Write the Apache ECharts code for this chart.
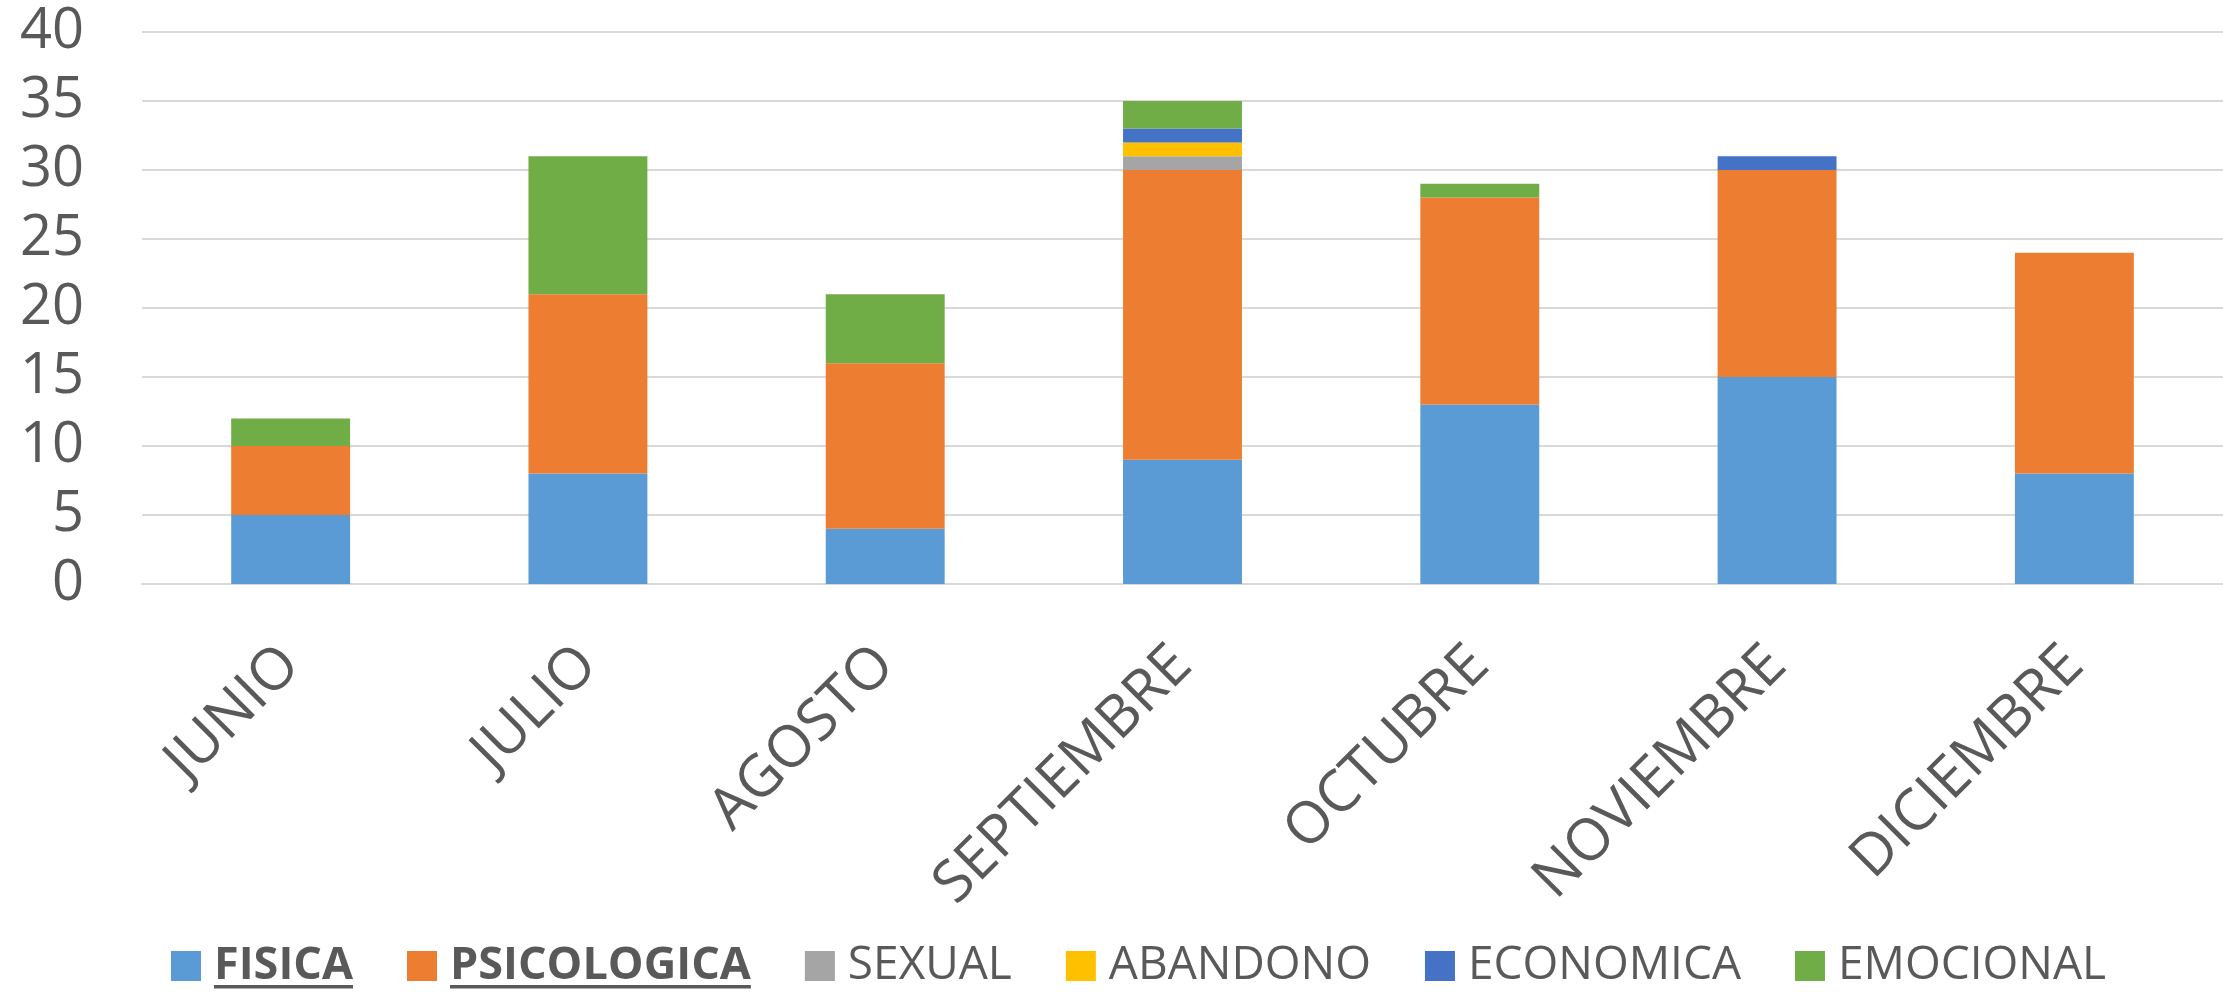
<!DOCTYPE html>
<html>
<head>
<meta charset="utf-8">
<script src="https://cdn.jsdelivr.net/npm/echarts@6/dist/echarts.min.js"></script>
<style>
  html, body { margin: 0; padding: 0; background: #fff; }
  #chart { width: 2223px; height: 992px; }
</style>
</head>
<body>
<div id="chart"></div>
<script>
var months = ["JUNIO", "JULIO", "AGOSTO", "SEPTIEMBRE", "OCTUBRE", "NOVIEMBRE", "DICIEMBRE"];
var fisica = [5, 8, 4, 9, 13, 15, 8];
var psicologica = [5, 13, 12, 21, 15, 15, 16];
var sexual = [0, 0, 0, 1, 0, 0, 0];
var abandono = [0, 0, 0, 1, 0, 0, 0];
var economica = [0, 0, 0, 1, 0, 1, 0];
var emocional = [2, 10, 5, 2, 1, 0, 0];
var yTicks = { min: 0, max: 40, step: 5 };

var textColor = "#595959";
var font = "Open Sans";

// underline for the bold legend names, drawn as a gradient background
var underline = {
  type: "linear", x: 0, y: 0, x2: 0, y2: 1,
  colorStops: [
    { offset: 0, color: "rgba(0,0,0,0)" },
    { offset: 0.93, color: "rgba(0,0,0,0)" },
    { offset: 0.93, color: textColor },
    { offset: 1, color: textColor }
  ]
};

function makeSeries(name, values, color) {
  return {
    name: name,
    type: "bar",
    stack: "total",
    barWidth: "40%",
    itemStyle: { color: color },
    data: values.map(function (v) { return v === 0 ? null : v; }),
  };
}

var myChart = echarts.init(document.getElementById("chart"));
var option = {
  animation: false,
  textStyle: { fontFamily: font },
  grid: { left: 142, right: 0, top: 32, bottom: 408, containLabel: false },
  legend: {
    bottom: -2,
    left: 166,
    itemWidth: 30,
    itemHeight: 30,
    itemGap: 54,
    icon: "rect",
    formatter: function (name) {
      if (name === "FISICA" || name === "PSICOLOGICA") return "{u|" + name + "}";
      return name;
    },
    textStyle: {
      fontFamily: font,
      fontSize: 46,
      color: textColor,
      padding: [0, 0, 0, 8],
      rich: {
        u: {
          fontFamily: font,
          fontSize: 45,
          fontWeight: "bold",
          color: textColor,
          lineHeight: 52,
          backgroundColor: underline,
        },
      },
    },
  },
  xAxis: {
    type: "category",
    data: months,
    axisLine: { show: true, lineStyle: { color: "#D9D9D9", width: 2 } },
    axisTick: { show: false },
    axisLabel: {
      interval: 0,
      rotate: 45,
      margin: 72,
      fontSize: 58,
      color: textColor,
      fontFamily: font,
    },
  },
  yAxis: {
    type: "value",
    min: yTicks.min,
    max: yTicks.max,
    interval: yTicks.step,
    axisLine: { show: false },
    axisTick: { show: false },
    splitLine: { lineStyle: { color: "#D9D9D9", width: 2 } },
    axisLabel: { fontSize: 56, color: textColor, margin: 58, fontFamily: font },
  },
  series: [
    makeSeries("FISICA", fisica, "#5B9BD5"),
    makeSeries("PSICOLOGICA", psicologica, "#ED7D31"),
    makeSeries("SEXUAL", sexual, "#A5A5A5"),
    makeSeries("ABANDONO", abandono, "#FFC000"),
    makeSeries("ECONOMICA", economica, "#4472C4"),
    makeSeries("EMOCIONAL", emocional, "#70AD47"),
  ],
};
myChart.setOption(option);
</script>
</body>
</html>
